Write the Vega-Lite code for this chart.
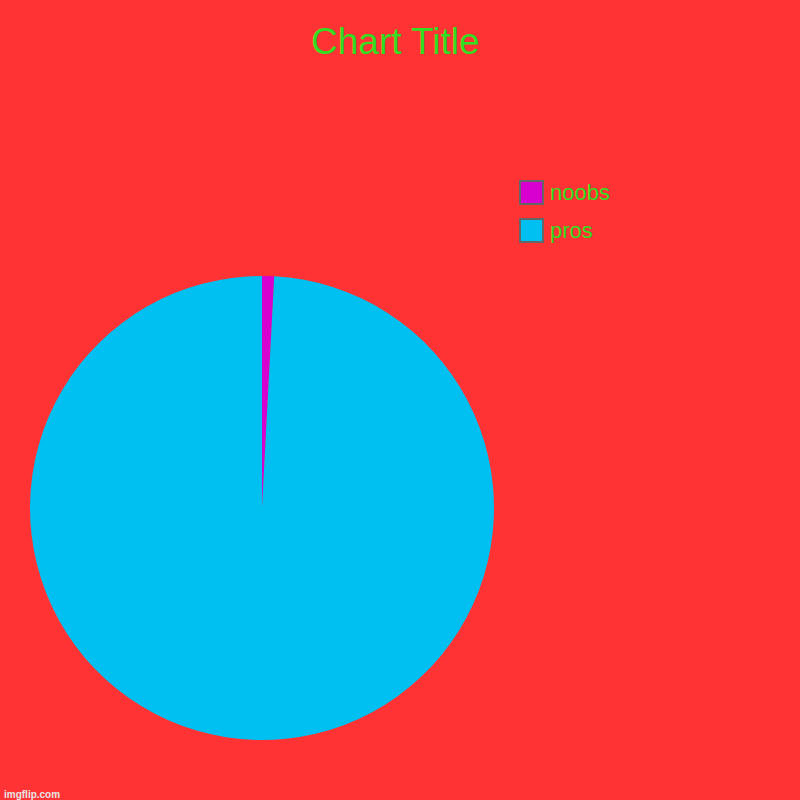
{
  "$schema": "https://vega.github.io/schema/vega-lite/v6.json",
  "description": "Pie chart: pros vs noobs",
  "autosize": {"type": "pad"},
  "padding": {"left": 4, "top": 24, "right": 320, "bottom": 320},
  "background": "#ff3333",
  "title": {
    "text": "Chart Title",
    "orient": "top",
    "anchor": "start",
    "dx": 307,
    "offset": 89,
    "baseline": "alphabetic",
    "font": "Liberation Sans",
    "fontSize": 37,
    "fontWeight": "normal",
    "color": "#33dd22"
  },
  "config": {"view": {"stroke": null}},
  "bounds": "flush",
  "vconcat": [
    {
      "width": 464,
      "height": 464,
      "title": {
        "text": "imgflip.com",
        "orient": "bottom",
        "anchor": "start",
        "dx": -26,
        "offset": 58,
        "baseline": "alphabetic",
        "font": "Liberation Sans",
        "fontSize": 10,
        "fontWeight": "bold",
        "color": "#e6e6e6"
      },
      "data": {
        "values": [
          {"group": "noobs", "count": 1},
          {"group": "pros", "count": 118}
        ]
      },
      "mark": {"type": "arc"},
      "encoding": {
        "theta": {"field": "count", "type": "quantitative", "stack": true},
        "order": {"field": "group", "sort": "ascending"},
        "color": {
          "field": "group",
          "type": "nominal",
          "scale": {"domain": ["noobs", "pros"], "range": ["#d800d0", "#00c0f2"]},
          "legend": {
            "title": null,
            "orient": "none",
            "legendX": 489,
            "legendY": -96,
            "padding": 0,
            "symbolType": "square",
            "symbolSize": 529,
            "symbolStrokeColor": "#666666",
            "symbolStrokeWidth": 2,
            "symbolOpacity": 1,
            "labelFont": "Liberation Sans",
            "labelFontSize": 22,
            "labelColor": "#33dd22",
            "labelOffset": 6,
            "rowPadding": 7
          }
        },
        "tooltip": [
          {"field": "group", "type": "nominal"},
          {"field": "count", "type": "quantitative"}
        ]
      }
    }
  ]
}
